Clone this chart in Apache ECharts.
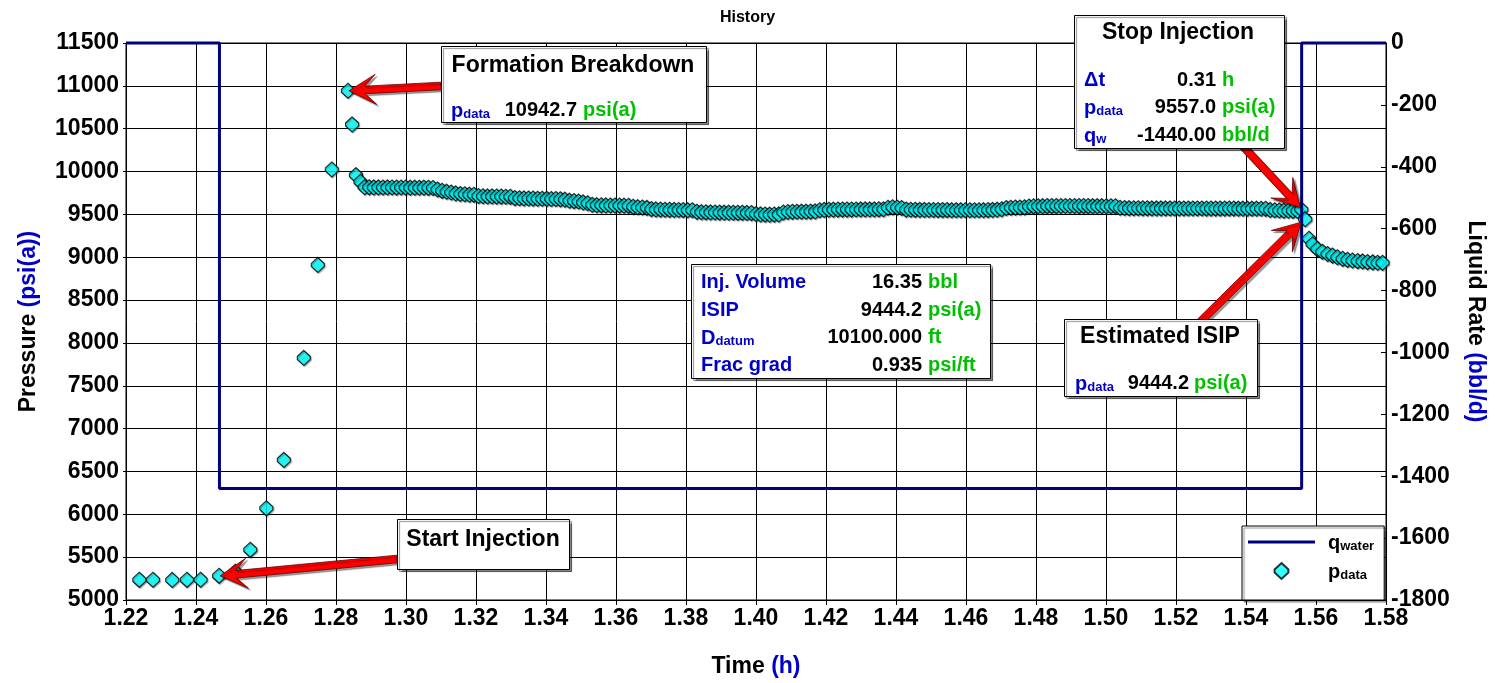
<!DOCTYPE html>
<html>
<head>
<meta charset="utf-8">
<script src="https://cdn.jsdelivr.net/npm/echarts@6/dist/echarts.min.js"></script>
<style>html,body{margin:0;padding:0;background:#fff}#c{width:1495px;height:683px}</style>
</head>
<body>
<div id="c"></div>
<script>
// ---------------- DATA ----------------
const timeTicks = [1.22,1.24,1.26,1.28,1.30,1.32,1.34,1.36,1.38,1.40,1.42,1.44,1.46,1.48,1.50,1.52,1.54,1.56,1.58];
const pressureTicks = [5000,5500,6000,6500,7000,7500,8000,8500,9000,9500,10000,10500,11000,11500];
const rateTicks = [-1800,-1600,-1400,-1200,-1000,-800,-600,-400,-200,0];

// Liquid rate (step)
const rateTime  = [1.22, 1.2467, 1.2467, 1.5559, 1.5559, 1.58];
const rateValue = [0, 0, -1440, -1440, 0, 0];

// Pressure data points
const pTime = [
1.2238,1.2277,1.2332,1.2374,1.2413,1.2466,1.2512,1.2555,1.2601,1.2651,1.2708,1.2748,1.2788,1.2834,1.2846,1.2857,1.2870,
1.2882,1.2895,1.2908,1.2921,1.2934,1.2947,1.2960,1.2973,1.2986,1.2999,1.3012,1.3025,1.3038,1.3051,1.3064,1.3077,
1.3090,1.3103,1.3116,1.3129,1.3142,
1.3155,1.3168,1.3181,1.3194,
1.3207,1.3220,1.3233,1.3246,1.3259,1.3272,1.3285,1.3298,
1.3311,1.3324,1.3337,1.3350,1.3363,1.3376,1.3389,1.3402,1.3415,1.3428,1.3441,1.3454,
1.3467,1.3480,1.3493,1.3506,1.3519,
1.3532,1.3545,1.3558,1.3571,1.3584,1.3597,1.3610,1.3623,1.3636,
1.3649,1.3662,1.3675,1.3688,
1.3701,1.3714,1.3727,1.3740,1.3753,1.3766,1.3779,1.3792,1.3805,1.3818,
1.3831,1.3844,1.3857,1.3870,1.3883,1.3896,1.3909,1.3922,1.3935,1.3948,1.3961,1.3974,1.3987,
1.4000,1.4013,1.4026,1.4039,1.4052,1.4065,
1.4078,1.4091,1.4104,1.4117,1.4130,1.4143,1.4156,1.4169,
1.4182,1.4195,1.4208,1.4221,1.4234,1.4247,1.4260,1.4273,1.4286,1.4299,1.4312,1.4325,1.4338,1.4351,1.4364,
1.4377,1.4390,1.4403,1.4416,
1.4429,1.4442,1.4455,1.4468,1.4481,1.4494,1.4507,1.4520,1.4533,1.4546,1.4559,1.4572,1.4585,1.4598,1.4611,1.4624,1.4637,1.4650,1.4663,1.4676,1.4689,1.4702,
1.4715,1.4728,1.4741,1.4754,1.4767,
1.4780,1.4793,1.4806,1.4819,1.4832,1.4845,1.4858,1.4871,1.4884,1.4897,1.4910,1.4923,1.4936,1.4949,1.4962,1.4975,1.4988,1.5001,1.5014,1.5027,
1.5040,1.5053,1.5066,1.5079,1.5092,1.5105,1.5118,1.5131,1.5144,1.5157,1.5170,1.5183,1.5196,1.5209,1.5222,1.5235,1.5248,1.5261,1.5274,1.5287,1.5300,1.5313,1.5326,1.5339,1.5352,1.5365,1.5378,1.5391,1.5404,1.5417,1.5430,1.5443,1.5456,
1.5469,1.5482,1.5495,1.5508,1.5521,1.5534,1.5547,
1.5558,1.5569,
1.5580,1.5590,1.5604,1.5618,1.5633,1.5647,1.5661,1.5676,1.5690,1.5704,1.5719,1.5733,1.5747,1.5762,1.5776,1.5790
];
const pData = [
5235,5236,5234,5235,5236,5282,5330,5585,6070,6635,7825,8910,10024,10942.7,10550,9958,9880,
9818,9816,9815,9815,9814,9815,9814,9813,9814,9813,9812,9812,9811,9812,9810,9808,
9790,9775,9765,9755,9745,
9738,9735,9730,9728,
9715,9712,9710,9710,9708,9708,9706,9705,
9690,9688,9686,9685,9684,9683,9682,9681,9680,9679,9676,9672,
9660,9655,9650,9640,9630,
9612,9608,9606,9605,9604,9604,9603,9602,9600,
9588,9584,9580,9576,
9562,9558,9556,9554,9553,9552,9551,9550,9549,9548,
9530,9526,9524,9523,9522,9521,9520,9520,9519,9518,9518,9517,9515,
9505,9500,9498,9497,9498,9500,
9522,9528,9530,9531,9532,9532,9533,9535,
9548,9552,9554,9555,9556,9556,9556,9556,9557,9558,9558,9558,9558,9559,9560,
9578,9582,9580,9574,
9556,9554,9553,9552,9552,9551,9551,9550,9550,9550,9549,9549,9549,9548,9548,9548,9548,9549,9550,9552,9555,9560,
9575,9578,9579,9580,9582,
9592,9594,9595,9596,9597,9597,9597,9598,9598,9598,9598,9597,9597,9597,9596,9596,9596,9595,9595,9594,
9578,9575,9573,9572,9572,9571,9571,9570,9570,9570,9570,9570,9569,9569,9569,9569,9569,9569,9569,9568,9568,9568,9568,9568,9568,9568,9567,9567,9567,9567,9567,9566,9565,
9552,9548,9545,9543,9542,9541,9540,
9557.0,9444.2,
9216,9152,9095,9064,9038,9019,9000,8981,8970,8962,8955,8951,8943,8940,8936,8935
];

// Summary values shown in the annotation boxes
const injVolume = 16.35;       // bbl
const datumDepth = 10100.000;  // ft
const fracGrad = 0.935;        // psi/ft
const injDuration = 0.31;      // h
const injRate = -1440.00;      // bbl/d

// ---------------- STYLE ----------------
const FONT = '"Liberation Sans", Arial, Helvetica, sans-serif';
const BLUE = '#0000c8';
const GREEN = '#00c000';
const NAVY = '#000080';
const HEX = 'path://M6.5,0 L13,6 L13,9 L6.5,15 L0,9 L0,6 Z';

const chart = echarts.init(document.getElementById('c'), null, {renderer: 'canvas'});

const nameRich = {
  a: {color: '#000', fontSize: 23, fontWeight: 'bold', fontFamily: FONT},
  b: {color: BLUE, fontSize: 23, fontWeight: 'bold', fontFamily: FONT}
};
const tickLabel = {fontSize: 23, fontWeight: 'bold', color: '#000', fontFamily: FONT};

const option = {
  animation: false,
  backgroundColor: '#fff',
  textStyle: {fontFamily: FONT},
  title: {
    text: 'History', left: 'center', top: 5, padding: [5, 0, 5, 20],
    textStyle: {fontSize: 16, fontWeight: 'bold', color: '#000', fontFamily: FONT}
  },
  grid: {left: 126, right: 108, top: 43, bottom: 81, show: true, borderColor: '#000', borderWidth: 1, backgroundColor: 'transparent'},
  legend: {
    orient: 'vertical', left: 1242, top: 526,
    padding: [7, 10, 18, 6], itemGap: 9, itemWidth: 67, itemHeight: 16,
    backgroundColor: '#fff', borderColor: '#000', borderWidth: 1,
    shadowColor: 'rgba(0,0,0,0.45)', shadowBlur: 1, shadowOffsetX: 2, shadowOffsetY: 2,
    data: [
      {name: 'qwater', icon: 'path://M0,0 L67,0 L67,3 L0,3 Z'},
      {name: 'pdata', icon: HEX}
    ],
    formatter: n => n === 'qwater' ? '{m|q}{s|water}' : '{m|p}{s|data}',
    textStyle: {
      padding: [0, 0, 0, 8],
      rich: {
        m: {fontSize: 20, fontWeight: 'bold', color: '#000', fontFamily: FONT, lineHeight: 22, verticalAlign: 'bottom'},
        s: {fontSize: 13, fontWeight: 'bold', color: '#000', fontFamily: FONT, lineHeight: 12, verticalAlign: 'bottom'}
      }
    }
  },
  xAxis: {
    type: 'value',
    min: timeTicks[0], max: timeTicks[timeTicks.length - 1],
    interval: +(timeTicks[1] - timeTicks[0]).toFixed(4),
    name: '{a|Time }{b|(h)}', nameLocation: 'middle', nameGap: 55,
    nameTextStyle: {rich: nameRich},
    axisLine: {show: true, onZero: false, lineStyle: {color: '#000', width: 1}},
    axisTick: {show: true, length: 5, lineStyle: {color: '#000'}},
    axisLabel: Object.assign({margin: 7, formatter: v => v.toFixed(2)}, tickLabel),
    splitLine: {show: true, lineStyle: {color: '#000', width: 1}}
  },
  yAxis: [
    {
      type: 'value', position: 'left',
      min: pressureTicks[0], max: pressureTicks[pressureTicks.length - 1],
      interval: pressureTicks[1] - pressureTicks[0],
      name: '{a|Pressure }{b|(psi(a))}', nameLocation: 'middle', nameGap: 86, nameRotate: 90,
      nameTextStyle: {rich: nameRich},
      axisLine: {show: true, lineStyle: {color: '#000', width: 1}},
      axisTick: {show: true, length: 3, lineStyle: {color: '#000'}},
      axisLabel: Object.assign({margin: 7, formatter: v => String(v)}, tickLabel),
      splitLine: {show: true, lineStyle: {color: '#000', width: 1}}
    },
    {
      type: 'value', position: 'right',
      min: rateTicks[0], max: rateTicks[rateTicks.length - 1],
      interval: rateTicks[1] - rateTicks[0],
      name: '{a|Liquid Rate }{b|(bbl/d)}', nameLocation: 'middle', nameGap: 78, nameRotate: -90,
      nameTextStyle: {rich: nameRich},
      axisLine: {show: true, onZero: false, lineStyle: {color: '#000', width: 1}},
      axisTick: {show: true, inside: true, length: 5, lineStyle: {color: '#000'}},
      axisLabel: Object.assign({margin: 5, formatter: v => String(v)}, tickLabel),
      splitLine: {show: false}
    }
  ],
  series: [
    {
      name: 'qwater', type: 'line', yAxisIndex: 1,
      data: rateTime.map((t, i) => [t, rateValue[i]]),
      symbol: 'none', clip: false, z: 5,
      lineStyle: {color: NAVY, width: 3},
      itemStyle: {color: NAVY}
    },
    {
      name: 'pdata', type: 'scatter', yAxisIndex: 0,
      data: pTime.map((t, i) => [t, pData[i]]),
      symbol: HEX, symbolSize: [13, 15], z: 4,
      itemStyle: {color: '#00ffff', borderColor: '#000', borderWidth: 1.2,
        shadowColor: 'rgba(0,0,0,0.35)', shadowBlur: 1, shadowOffsetX: 1, shadowOffsetY: 1}
    }
  ]
};
chart.setOption(option);

// ---------------- ANNOTATIONS ----------------
const px = (t, p) => chart.convertToPixel({xAxisIndex: 0, yAxisIndex: 0}, [t, p]);
const iStart = pData.indexOf(5282);
const iBreak = pData.indexOf(10942.7);
const iStop = pData.lastIndexOf(9557.0);
const iIsip = pData.indexOf(9444.2);

function T(x, y, text, size, color, align) {
  return {type: 'text', z: 110, x: x, y: y,
    style: {text: text, font: 'bold ' + size + 'px ' + FONT, fill: color,
      align: align || 'left', verticalAlign: 'middle'}};
}
function S(x, y, main, sub, color) {
  return {type: 'text', z: 110, x: x, y: y,
    style: {text: '{m|' + main + '}{s|' + sub + '}', align: 'left', verticalAlign: 'middle',
      rich: {
        m: {font: 'bold 20px ' + FONT, fill: color, lineHeight: 22, verticalAlign: 'bottom'},
        s: {font: 'bold 13px ' + FONT, fill: color, lineHeight: 12, verticalAlign: 'bottom'}
      }}};
}
function box(x, y, w, h) {
  return {type: 'rect', z: 100, shape: {x: x + 0.5, y: y + 0.5, width: w, height: h},
    style: {fill: '#fff', stroke: '#000', lineWidth: 1,
      shadowColor: 'rgba(0,0,0,0.45)', shadowBlur: 1, shadowOffsetX: 2, shadowOffsetY: 2}};
}
function arrow(tail, tip) {
  const dx = tip[0] - tail[0], dy = tip[1] - tail[1];
  const L = Math.hypot(dx, dy), ux = dx / L, uy = dy / L, nx = -uy, ny = ux;
  const hw = 3.8, headLen = 27, headW = 15, joint = 16;
  const Q = (a, b) => [tip[0] - ux * a + nx * b, tip[1] - uy * a + ny * b];
  const pts = [tip, Q(headLen, headW), Q(joint, hw),
    [tail[0] + nx * hw, tail[1] + ny * hw], [tail[0] - nx * hw, tail[1] - ny * hw],
    Q(joint, -hw), Q(headLen, -headW)];
  return {type: 'polygon', z: 90, shape: {points: pts},
    style: {fill: '#ff0000', stroke: '#600000', lineWidth: 0.8,
      shadowColor: 'rgba(0,0,0,0.4)', shadowBlur: 1, shadowOffsetX: 2, shadowOffsetY: 2}};
}

const pB = px(pTime[iBreak], pData[iBreak]);
const pS = px(pTime[iStart], pData[iStart]);
const pE = px(pTime[iStop], pData[iStop]);
const pI = px(pTime[iIsip], pData[iIsip]);

const g = [];
// arrows
g.push(arrow([441, 86], [pB[0] + 1, pB[1]]));
g.push(arrow([397, 559], [pS[0] + 1, pS[1]]));
g.push(arrow([1240, 143], [pE[0] - 1, pE[1] - 2]));
g.push(arrow([1198, 324], [pI[0] - 4, pI[1] + 3]));

// Formation Breakdown
g.push(box(441, 46, 265, 76));
g.push(T(573, 66, 'Formation Breakdown', 23, '#000', 'center'));
g.push(S(451, 110, 'p', 'data', BLUE));
g.push(T(577, 110, pData[iBreak].toFixed(1), 20, '#000', 'right'));
g.push(T(583, 110, 'psi(a)', 20, GREEN));

// Start Injection
g.push(box(397, 519, 172, 50));
g.push(T(483, 540, 'Start Injection', 23, '#000', 'center'));

// Stop Injection
g.push(box(1074, 15, 210, 133));
g.push(T(1178, 33, 'Stop Injection', 23, '#000', 'center'));
g.push(T(1084, 80, 'Δt', 20, BLUE));
g.push(T(1216, 80, injDuration.toFixed(2), 20, '#000', 'right'));
g.push(T(1222, 80, 'h', 20, GREEN));
g.push(S(1084, 107, 'p', 'data', BLUE));
g.push(T(1216, 107, pData[iStop].toFixed(1), 20, '#000', 'right'));
g.push(T(1222, 107, 'psi(a)', 20, GREEN));
g.push(S(1084, 135, 'q', 'w', BLUE));
g.push(T(1216, 135, injRate.toFixed(2), 20, '#000', 'right'));
g.push(T(1222, 135, 'bbl/d', 20, GREEN));

// Summary box
g.push(box(691, 264, 299, 114));
g.push(T(701, 282, 'Inj. Volume', 20, BLUE));
g.push(T(922, 282, injVolume.toFixed(2), 20, '#000', 'right'));
g.push(T(928, 282, 'bbl', 20, GREEN));
g.push(T(701, 310, 'ISIP', 20, BLUE));
g.push(T(922, 310, pData[iIsip].toFixed(1), 20, '#000', 'right'));
g.push(T(928, 310, 'psi(a)', 20, GREEN));
g.push(S(701, 337, 'D', 'datum', BLUE));
g.push(T(922, 337, datumDepth.toFixed(3), 20, '#000', 'right'));
g.push(T(928, 337, 'ft', 20, GREEN));
g.push(T(701, 365, 'Frac grad', 20, BLUE));
g.push(T(922, 365, fracGrad.toFixed(3), 20, '#000', 'right'));
g.push(T(928, 365, 'psi/ft', 20, GREEN));

// Estimated ISIP
g.push(box(1064, 319, 193, 77));
g.push(T(1160, 337, 'Estimated ISIP', 23, '#000', 'center'));
g.push(S(1075, 383, 'p', 'data', BLUE));
g.push(T(1189, 383, pData[iIsip].toFixed(1), 20, '#000', 'right'));
g.push(T(1194, 383, 'psi(a)', 20, GREEN));

chart.setOption({graphic: {elements: g}});
</script>
</body>
</html>
